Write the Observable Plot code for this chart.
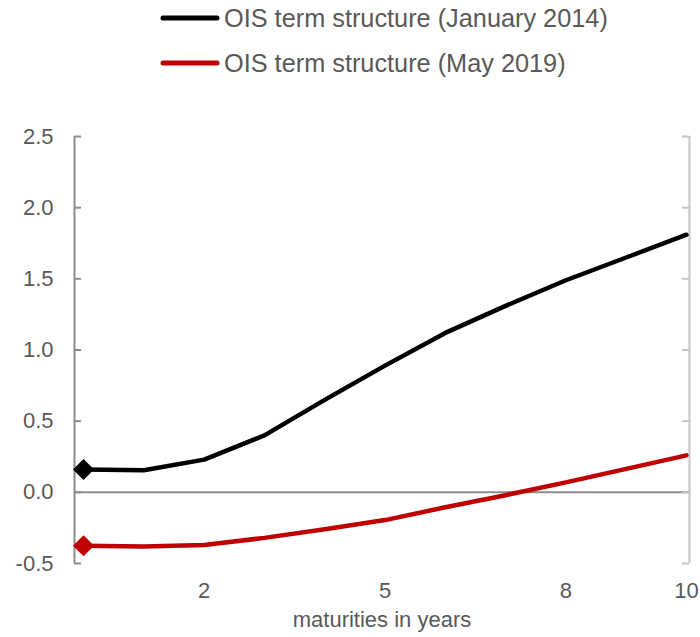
<!DOCTYPE html>
<html>
<head>
<meta charset="utf-8">
<script src="https://cdn.jsdelivr.net/npm/d3@7"></script>
<script src="https://cdn.jsdelivr.net/npm/@observablehq/plot@0.6"></script>
<style>
  html, body { margin: 0; padding: 0; background: #fff; }
  #wrap { position: relative; width: 700px; height: 637px; font-family: "Liberation Sans", Arial, sans-serif; color: #595959; }
  #chart { position: absolute; left: 0; top: 0; }
  #legend { position: absolute; left: 160px; top: 0; }
  .item { display: flex; align-items: center; height: 36px; font-size: 25.3px; white-space: nowrap; }
  .item svg { margin-right: 4px; }
</style>
</head>
<body>
<div id="wrap">
  <div id="chart"></div>
  <div id="legend"></div>
</div>
<script>
const maturities = [0, 1, 2, 3, 4, 5, 6, 7, 8, 9, 10];
const jan2014 = [0.16, 0.155, 0.23, 0.40, 0.65, 0.89, 1.12, 1.31, 1.49, 1.65, 1.81];
const may2019 = [-0.375, -0.38, -0.37, -0.32, -0.26, -0.195, -0.105, -0.02, 0.07, 0.165, 0.26];
const seriesNames = ["OIS term structure (January 2014)", "OIS term structure (May 2019)"];
const seriesColors = ["#000000", "#c00000"];
const xTicks = [2, 5, 8, 10];
const yTicks = [-0.5, 0, 0.5, 1.0, 1.5, 2.0, 2.5];
const xLabel = "maturities in years";

const seriesValues = [jan2014, may2019];
const data = seriesNames.flatMap((name, i) =>
  maturities.map((m, j) => ({series: name, x: m, y: seriesValues[i][j], color: seriesColors[i]}))
);
const firstPoints = data.filter(d => d.x === maturities[0]);

const xDomain = [-0.15, 10.05];

const chart = Plot.plot({
  width: 700,
  height: 637,
  marginTop: 136,
  marginBottom: 74,
  marginLeft: 74,
  marginRight: 11,
  style: {fontFamily: '"Liberation Sans", Arial, sans-serif', fontSize: "22px", color: "#595959", background: "#fff"},
  x: {domain: xDomain, ticks: xTicks, tickSize: 0, tickPadding: 19, label: null, tickFormat: d => String(d)},
  y: {domain: [-0.5, 2.5], ticks: yTicks, tickSize: 0, tickPadding: 21, label: null, tickFormat: d => d.toFixed(1)},
  marks: [
    Plot.ruleY([0], {stroke: "#8c8c8c", strokeWidth: 2}),
    Plot.ruleX([xDomain[0]], {stroke: "#8c8c8c", strokeWidth: 2}),
    Plot.ruleX([xDomain[1]], {stroke: "#c4c4c4", strokeWidth: 2}),
    Plot.tickY(yTicks, {y: d => d, stroke: "#8c8c8c", strokeWidth: 2, insetRight: 608}),
    Plot.tickY(yTicks, {y: d => d, stroke: "#c4c4c4", strokeWidth: 2, insetLeft: 608}),
    Plot.line(data, {x: "x", y: "y", z: "series", stroke: "color", strokeWidth: 4.5, strokeLinejoin: "round", strokeLinecap: "round"}),
    Plot.dot(firstPoints, {x: "x", y: "y", fill: "color", stroke: "none", symbol: "diamond2", r: 9.5}),
    Plot.text([xLabel], {frameAnchor: "bottom", dy: 63, fontSize: 22, fill: "#595959"})
  ]
});
document.getElementById("chart").appendChild(chart);

const legend = document.getElementById("legend");
seriesNames.forEach((name, i) => {
  const item = document.createElement("div");
  item.className = "item";
  item.style.marginTop = i === 0 ? "0px" : "9px";
  item.innerHTML = `<svg width="60" height="10"><line x1="3" y1="5" x2="57" y2="5" stroke="${seriesColors[i]}" stroke-width="5" stroke-linecap="round"/></svg><span>${name}</span>`;
  legend.appendChild(item);
});
</script>
</body>
</html>
